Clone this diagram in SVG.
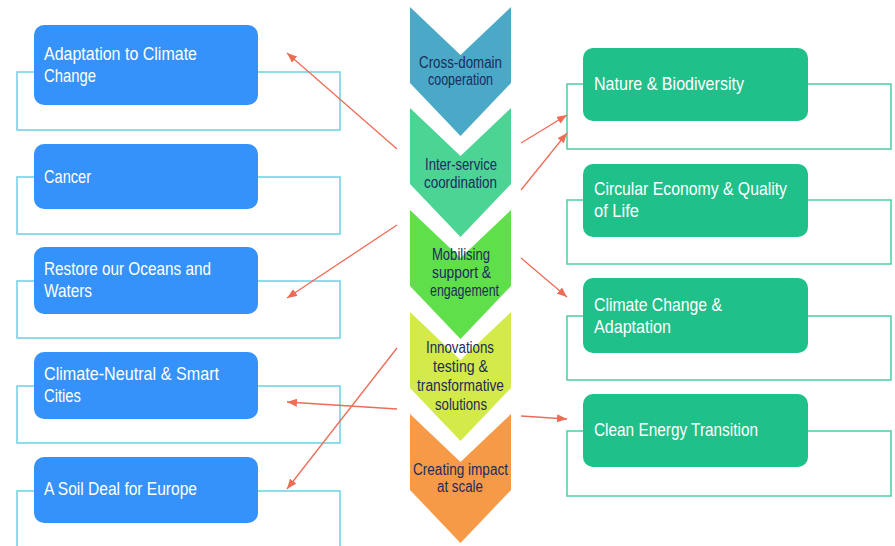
<svg xmlns="http://www.w3.org/2000/svg" width="895" height="546" viewBox="0 0 895 546">
<style>
.ol{fill:none;stroke:#6dd1e4;stroke-width:1.5}
.or{fill:none;stroke:#4ccf9d;stroke-width:1.5}
.bb{fill:#3592fa}
.gb{fill:#20c08a}
.bt{font-family:"Liberation Sans",Arial,sans-serif;font-size:19px;fill:#ffffff}
.ct{font-family:"Liberation Sans",Arial,sans-serif;font-size:16px;fill:#1d2b5c;text-anchor:middle}
.ar{stroke:#ec6d56;stroke-width:1.3;fill:none;marker-end:url(#ah)}
</style>
<defs>
<marker id="ah" viewBox="0 0 10 8" refX="10" refY="4" markerWidth="10" markerHeight="8" markerUnits="userSpaceOnUse" orient="auto">
<path d="M0,0 L10,4 L0,8 z" fill="#ec6d56"/>
</marker>
</defs>
<rect width="895" height="546" fill="#ffffff"/>

<g id="chevrons">
<g id="c1"><path d="M410,7 L460.5,55 L511,7 L511,83 L460.5,136 L410,83 Z" fill="#4aa9c7"/>
<text class="ct" x="460.5" y="68" textLength="83" lengthAdjust="spacingAndGlyphs">Cross-domain</text>
<text class="ct" x="460.5" y="85" textLength="65" lengthAdjust="spacingAndGlyphs">cooperation</text></g>
<g id="c2"><path d="M410,108 L460.5,156 L511,108 L511,184 L460.5,237 L410,184 Z" fill="#4bd494"/>
<text class="ct" x="461" y="170" textLength="72" lengthAdjust="spacingAndGlyphs">Inter-service</text>
<text class="ct" x="460.5" y="188" textLength="73" lengthAdjust="spacingAndGlyphs">coordination</text></g>
<g id="c3"><path d="M410,210 L460.5,258 L511,210 L511,286 L460.5,339 L410,286 Z" fill="#5fe04a"/>
<text class="ct" x="461" y="260" textLength="58" lengthAdjust="spacingAndGlyphs">Mobilising</text>
<text class="ct" x="461.5" y="278" textLength="59" lengthAdjust="spacingAndGlyphs">support &amp;</text>
<text class="ct" x="464.5" y="296" textLength="69" lengthAdjust="spacingAndGlyphs">engagement</text></g>
<g id="c4"><path d="M410,312 L460.5,360 L511,312 L511,388 L460.5,441 L410,388 Z" fill="#d4ea48"/>
<text class="ct" x="460" y="353" textLength="68" lengthAdjust="spacingAndGlyphs">Innovations</text>
<text class="ct" x="460.5" y="372" textLength="55" lengthAdjust="spacingAndGlyphs">testing &amp;</text>
<text class="ct" x="460.5" y="391" textLength="87" lengthAdjust="spacingAndGlyphs">transformative</text>
<text class="ct" x="461" y="410" textLength="52" lengthAdjust="spacingAndGlyphs">solutions</text></g>
<g id="c5"><path d="M410,414 L460.5,462 L511,414 L511,490 L460.5,543 L410,490 Z" fill="#f79a48"/>
<text class="ct" x="460.5" y="475" textLength="95" lengthAdjust="spacingAndGlyphs">Creating impact</text>
<text class="ct" x="460" y="492" textLength="46" lengthAdjust="spacingAndGlyphs">at scale</text></g>
</g>

<g id="left">
<g id="n-adapt"><rect class="ol" x="17" y="72" width="323" height="58"/>
<rect class="bb" x="34" y="25" width="224" height="80" rx="10"/>
<text class="bt" x="44" y="60" textLength="153" lengthAdjust="spacingAndGlyphs">Adaptation to Climate</text>
<text class="bt" x="44" y="82" textLength="52" lengthAdjust="spacingAndGlyphs">Change</text></g>
<g id="n-cancer"><rect class="ol" x="17" y="177" width="323" height="57"/>
<rect class="bb" x="34" y="144" width="224" height="65" rx="10"/>
<text class="bt" x="44" y="183" textLength="47" lengthAdjust="spacingAndGlyphs">Cancer</text></g>
<g id="n-oceans"><rect class="ol" x="17" y="281" width="323" height="57"/>
<rect class="bb" x="34" y="247" width="224" height="67" rx="10"/>
<text class="bt" x="44" y="275" textLength="167" lengthAdjust="spacingAndGlyphs">Restore our Oceans and</text>
<text class="bt" x="44" y="297" textLength="48" lengthAdjust="spacingAndGlyphs">Waters</text></g>
<g id="n-cities"><rect class="ol" x="17" y="386" width="323" height="57"/>
<rect class="bb" x="34" y="352" width="224" height="67" rx="10"/>
<text class="bt" x="44" y="380" textLength="175" lengthAdjust="spacingAndGlyphs">Climate-Neutral &amp; Smart</text>
<text class="bt" x="44" y="402" textLength="37" lengthAdjust="spacingAndGlyphs">Cities</text></g>
<g id="n-soil"><rect class="ol" x="17" y="491" width="323" height="70"/>
<rect class="bb" x="34" y="457" width="224" height="66" rx="10"/>
<text class="bt" x="44" y="495" textLength="153" lengthAdjust="spacingAndGlyphs">A Soil Deal for Europe</text></g>
</g>

<g id="right">
<g id="n-nature"><rect class="or" x="567" y="84" width="324" height="65"/>
<rect class="gb" x="583" y="48" width="225" height="73" rx="10"/>
<text class="bt" x="594" y="90" textLength="150" lengthAdjust="spacingAndGlyphs">Nature &amp; Biodiversity</text></g>
<g id="n-circular"><rect class="or" x="567" y="200" width="324" height="64"/>
<rect class="gb" x="583" y="164" width="225" height="73" rx="10"/>
<text class="bt" x="594" y="195" textLength="193" lengthAdjust="spacingAndGlyphs">Circular Economy &amp; Quality</text>
<text class="bt" x="594" y="217" textLength="45" lengthAdjust="spacingAndGlyphs">of Life</text></g>
<g id="n-climate"><rect class="or" x="567" y="316" width="324" height="64"/>
<rect class="gb" x="583" y="278" width="225" height="75" rx="10"/>
<text class="bt" x="594" y="311" textLength="128" lengthAdjust="spacingAndGlyphs">Climate Change &amp;</text>
<text class="bt" x="594" y="333" textLength="77" lengthAdjust="spacingAndGlyphs">Adaptation</text></g>
<g id="n-energy"><rect class="or" x="567" y="431" width="324" height="65"/>
<rect class="gb" x="583" y="394" width="225" height="73" rx="10"/>
<text class="bt" x="594" y="436" textLength="164" lengthAdjust="spacingAndGlyphs">Clean Energy Transition</text></g>
</g>

<g id="connectors">
<line class="ar" x1="397" y1="149" x2="287" y2="53"/>
<line class="ar" x1="397" y1="225" x2="287" y2="298"/>
<line class="ar" x1="397" y1="348" x2="287" y2="489"/>
<line class="ar" x1="397" y1="409" x2="287" y2="402"/>
<line class="ar" x1="521" y1="143" x2="567" y2="115"/>
<line class="ar" x1="521" y1="190" x2="567" y2="133"/>
<line class="ar" x1="521" y1="258" x2="567" y2="297"/>
<line class="ar" x1="521" y1="416" x2="567" y2="419"/>
</g>
</svg>
